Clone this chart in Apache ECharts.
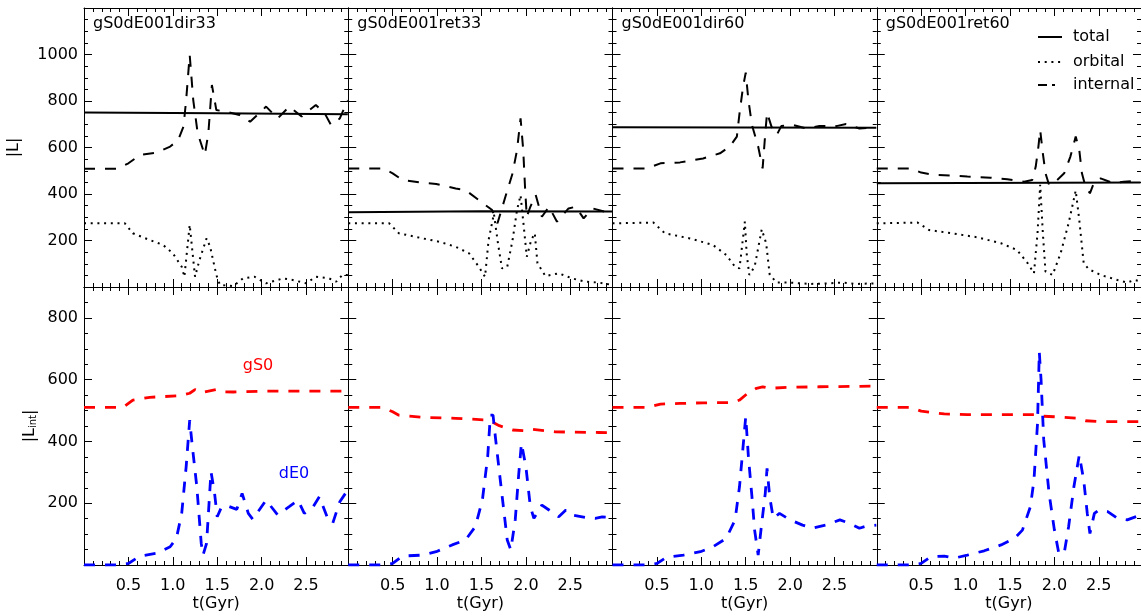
<!DOCTYPE html>
<html>
<head>
<meta charset="utf-8">
<script src="https://cdn.jsdelivr.net/npm/echarts@6/dist/echarts.min.js"></script>
<style>
html, body { margin: 0; padding: 0; background: #fff; }
#chart { width: 1141px; height: 616px; }
</style>
</head>
<body>
<div id="chart"></div>
<script>
const runs = ["gS0dE001dir33", "gS0dE001ret33", "gS0dE001dir60", "gS0dE001ret60"];
const legendNames = ["total", "orbital", "internal"];

// top row: |L| (total, orbital, internal), [t (Gyr), value]
const dir33Total = [[0, 751], [1.5, 747], [2.97, 743]];
const dir33Orbital = [[0,274],[0.46,274],[0.55,231],[0.74,202],[0.89,181],[1.0,145],[1.10,87],[1.13,44],[1.19,267],[1.25,44],[1.30,116],[1.38,209],[1.42,173],[1.49,52],[1.53,9],[1.68,4],[1.79,37],[1.92,44],[2.05,16],[2.24,37],[2.35,30],[2.5,16],[2.61,44],[2.76,37],[2.84,23],[2.91,52],[2.97,52]];
const dir33Internal = [[0,509],[0.37,509],[0.5,532],[0.63,568],[0.82,578],[0.97,604],[1.06,632],[1.12,690],[1.15,804],[1.19,998],[1.23,804],[1.28,661],[1.36,568],[1.40,661],[1.44,869],[1.49,761],[1.60,754],[1.75,740],[1.87,711],[2.01,761],[2.05,776],[2.18,725],[2.31,776],[2.45,733],[2.61,783],[2.71,747],[2.78,697],[2.88,725],[2.97,804]];

const ret33Total = [[0, 322], [1.5, 326], [2.97, 325]];
const ret33Orbital = [[0,274],[0.46,274],[0.57,231],[0.84,209],[1.02,195],[1.21,173],[1.36,145],[1.47,87],[1.54,44],[1.58,202],[1.64,315],[1.68,202],[1.73,80],[1.79,87],[1.85,202],[1.90,331],[1.94,395],[1.98,245],[2.01,130],[2.06,202],[2.10,231],[2.13,102],[2.22,47],[2.37,59],[2.52,37],[2.67,23],[2.82,19],[2.97,9]];
const ret33Internal = [[0,510],[0.39,510],[0.50,489],[0.61,460],[0.82,449],[0.99,443],[1.21,424],[1.32,417],[1.47,374],[1.62,331],[1.68,274],[1.77,389],[1.85,489],[1.90,589],[1.94,725],[1.97,589],[1.99,431],[2.01,302],[2.05,345],[2.11,396],[2.18,302],[2.26,345],[2.35,281],[2.48,338],[2.56,345],[2.65,295],[2.75,338],[2.90,323],[2.97,320]];

const dir60Total = [[0, 687], [2.97, 685]];
const dir60Orbital = [[0,274],[0.46,277],[0.59,231],[0.87,209],[1.13,181],[1.28,138],[1.38,87],[1.43,80],[1.49,281],[1.51,145],[1.54,52],[1.60,87],[1.68,248],[1.73,188],[1.77,52],[1.85,19],[2.0,19],[2.22,13],[2.45,16],[2.60,19],[2.75,13],[2.97,16]];
const dir60Internal = [[0,510],[0.39,510],[0.54,532],[0.76,536],[1.02,553],[1.21,575],[1.32,604],[1.40,647],[1.43,747],[1.47,862],[1.50,922],[1.53,804],[1.57,697],[1.64,604],[1.69,510],[1.72,661],[1.74,750],[1.79,690],[1.85,654],[1.90,692],[2.03,697],[2.18,682],[2.33,692],[2.52,692],[2.63,701],[2.78,682],[2.97,687]];

const ret60Total = [[0, 446], [2.97, 449]];
const ret60Orbital = [[0,274],[0.46,277],[0.59,245],[0.84,231],[1.13,214],[1.40,188],[1.58,159],[1.70,102],[1.77,59],[1.81,231],[1.84,440],[1.87,231],[1.90,66],[1.98,52],[2.07,145],[2.16,274],[2.24,415],[2.28,288],[2.33,102],[2.39,76],[2.52,52],[2.71,30],[2.82,19],[2.90,30],[2.97,25]];
const ret60Internal = [[0,510],[0.39,510],[0.5,492],[0.65,482],[0.84,479],[1.02,475],[1.28,470],[1.47,463],[1.66,453],[1.75,460],[1.79,518],[1.82,604],[1.84,675],[1.87,575],[1.90,489],[1.94,439],[2.03,460],[2.11,489],[2.18,561],[2.24,647],[2.28,589],[2.31,489],[2.35,432],[2.40,403],[2.45,453],[2.52,467],[2.67,446],[2.78,453],[2.90,456],[2.97,449]];

// bottom row: |L_int| of gS0 and dE0
const dir33GS0 = [[0,510],[0.44,510],[0.55,534],[0.74,543],[1.08,548],[1.19,556],[1.25,568],[1.32,558],[1.49,568],[1.57,561],[1.68,560],[2.05,563],[2.97,563]];
const dir33DE0 = [[0,0],[0.37,0],[0.5,5],[0.63,29],[0.82,38],[0.97,59],[1.04,86],[1.10,167],[1.15,318],[1.19,469],[1.22,383],[1.27,254],[1.32,70],[1.34,32],[1.38,70],[1.41,210],[1.43,302],[1.47,232],[1.50,156],[1.55,189],[1.62,191],[1.72,180],[1.78,232],[1.85,167],[1.90,148],[2.05,210],[2.18,162],[2.31,189],[2.41,210],[2.48,167],[2.58,189],[2.65,221],[2.75,146],[2.80,135],[2.88,205],[2.97,243]];

const ret33GS0 = [[0,510],[0.39,510],[0.50,496],[0.57,485],[0.84,478],[1.21,475],[1.58,469],[1.70,451],[1.85,437],[1.98,435],[2.05,440],[2.33,431],[2.82,429],[2.97,428]];
const ret33DE0 = [[0,0],[0.39,0],[0.5,5],[0.61,29],[0.84,32],[0.99,43],[1.17,65],[1.32,81],[1.43,124],[1.51,210],[1.57,351],[1.60,485],[1.63,485],[1.66,405],[1.72,254],[1.79,81],[1.83,49],[1.88,146],[1.92,297],[1.95,394],[2.00,318],[2.05,189],[2.09,151],[2.18,194],[2.26,178],[2.37,156],[2.45,178],[2.52,162],[2.67,154],[2.78,151],[2.86,156],[2.97,154]];

const dir60GS0 = [[0,510],[0.39,510],[0.54,521],[0.76,523],[1.02,525],[1.36,526],[1.43,534],[1.51,553],[1.62,572],[1.69,577],[1.77,572],[1.96,575],[2.33,577],[2.97,579]];
const dir60DE0 = [[0,0],[0.39,0],[0.5,5],[0.61,25],[0.80,32],[0.99,43],[1.13,59],[1.28,86],[1.38,146],[1.43,254],[1.47,383],[1.50,480],[1.53,351],[1.57,221],[1.60,113],[1.64,32],[1.68,135],[1.72,232],[1.74,313],[1.77,221],[1.81,151],[1.88,167],[2.0,146],[2.14,129],[2.25,119],[2.40,129],[2.56,146],[2.67,135],[2.78,119],[2.86,126],[2.97,129]];

const ret60GS0 = [[0,510],[0.39,510],[0.5,498],[0.76,489],[1.02,487],[1.40,487],[1.77,487],[1.85,482],[2.0,480],[2.26,475],[2.35,467],[2.52,464],[2.97,464]];
const ret60DE0 = [[0,0],[0.39,0],[0.5,5],[0.61,27],[0.76,29],[0.87,22],[1.02,32],[1.21,46],[1.40,65],[1.55,86],[1.64,113],[1.73,189],[1.77,275],[1.81,458],[1.83,690],[1.85,599],[1.88,405],[1.94,232],[2.0,113],[2.05,38],[2.11,38],[2.16,124],[2.22,254],[2.28,356],[2.33,275],[2.37,167],[2.40,102],[2.45,167],[2.50,178],[2.60,173],[2.71,151],[2.82,146],[2.97,162]];

const topData = [
  [dir33Total, dir33Orbital, dir33Internal],
  [ret33Total, ret33Orbital, ret33Internal],
  [dir60Total, dir60Orbital, dir60Internal],
  [ret60Total, ret60Orbital, ret60Internal]
];
const bottomData = [
  [dir33GS0, dir33DE0],
  [ret33GS0, ret33DE0],
  [dir60GS0, dir60DE0],
  [ret60GS0, ret60DE0]
];

const FONT = '"DejaVu Sans", sans-serif';
const DASH = [11, 10];
const DOT = [2, 4.7];
const red = "#ff0000", blue = "#0000ff";

const panelLeft = 84, panelW = 264.25;
const rows = [
  { top: 8, height: 279, max: 1200, minor: 50 },
  { top: 287, height: 278, max: 900, minor: 50 }
];
const tMax = 2.975;

let chart = echarts.init(document.getElementById("chart"), null, { renderer: "canvas" });

function buildChart() {
  const grids = [], xAxes = [], yAxes = [], series = [], titles = [];

  for (let g = 0; g < 8; g++) {
    const row = g < 4 ? 0 : 1, col = g % 4, r = rows[row];
    grids.push({
      left: panelLeft + col * panelW, top: r.top, width: panelW, height: r.height,
      show: false, containLabel: false, outerBoundsMode: "none"
    });

    ["bottom", "top"].forEach(pos => {
      ["major", "minor"].forEach(kind => {
        const major = kind === "major";
        const labels = major && pos === "bottom" && row === 1;
        xAxes.push({
          type: "value", gridIndex: g, position: pos, min: 0, max: tMax,
          interval: major ? 0.5 : 0.1,
          axisLine: { show: major, onZero: false, lineStyle: { color: "#000", width: 1 } },
          axisTick: { show: true, inside: true, length: major ? 8 : 4, lineStyle: { color: "#000", width: 1 } },
          splitLine: { show: false },
          axisLabel: {
            show: labels, margin: 13, color: "#000", fontSize: 16, fontFamily: FONT,
            formatter: v => (v > 0.25 && v < 2.75) ? v.toFixed(1) : ""
          },
          name: labels ? "t(Gyr)" : "", nameLocation: "middle", nameGap: 31,
          nameTextStyle: { color: "#000", fontSize: 16, fontFamily: FONT }
        });
      });
    });

    ["left", "right"].forEach(pos => {
      ["major", "minor"].forEach(kind => {
        const major = kind === "major";
        const labels = major && pos === "left" && col === 0;
        const ax = {
          type: "value", gridIndex: g, position: pos, min: 0, max: r.max,
          interval: major ? 200 : r.minor,
          axisLine: { show: major, onZero: false, lineStyle: { color: "#000", width: 1 } },
          axisTick: { show: true, inside: true, length: major ? 8 : 4, lineStyle: { color: "#000", width: 1 } },
          splitLine: { show: false },
          axisLabel: {
            show: labels, margin: 6, color: "#000", fontSize: 16, fontFamily: FONT,
            formatter: v => (v > 100 && v < r.max - 60) ? String(v) : ""
          }
        };
        if (labels && row === 0) {
          ax.name = "|L|";
          ax.nameLocation = "middle";
          ax.nameRotate = 90;
          ax.nameGap = 62;
          ax.nameTextStyle = { color: "#000", fontSize: 16, fontFamily: FONT, lineHeight: 16 };
        }
        if (labels && row === 1) {
          ax.name = "{a||L}{s|int}{a||}";
          ax.nameLocation = "middle";
          ax.nameRotate = 90;
          ax.nameGap = 46;
          ax.nameTextStyle = {
            color: "#000", fontSize: 16, fontFamily: FONT,
            rich: {
              a: { color: "#000", fontSize: 16, fontFamily: FONT, lineHeight: 16, verticalAlign: "top" },
              s: { color: "#000", fontSize: 10, fontFamily: FONT, lineHeight: 10, padding: [12, 0, 0, 0], verticalAlign: "bottom" }
            }
          };
        }
        yAxes.push(ax);
      });
    });

    if (row === 0) {
      const [tot, orb, int] = topData[col];
      const styles = [
        { color: "#000", width: 2, type: "solid" },
        { color: "#000", width: 2, type: DOT, cap: "butt" },
        { color: "#000", width: 2, type: DASH }
      ];
      [tot, orb, int].forEach((d, i) => {
        series.push({
          type: "line", name: legendNames[i], xAxisIndex: g * 4, yAxisIndex: g * 4,
          data: d, showSymbol: false, symbol: "none", silent: true,
          lineStyle: styles[i]
        });
      });
      titles.push({
        text: runs[col], left: panelLeft + col * panelW + 9, top: 16, padding: 0,
        textStyle: { color: "#000", fontSize: 16, fontWeight: "normal", fontFamily: FONT }
      });
    } else {
      const [gs, de] = bottomData[col];
      series.push({
        type: "line", name: "gS0", xAxisIndex: g * 4, yAxisIndex: g * 4,
        data: gs, showSymbol: false, symbol: "none", silent: true,
        lineStyle: { color: red, width: 2.8, type: DASH }
      });
      series.push({
        type: "line", name: "dE0", xAxisIndex: g * 4, yAxisIndex: g * 4,
        data: de, showSymbol: false, symbol: "none", silent: true,
        lineStyle: { color: blue, width: 2.8, type: DASH }
      });
    }
  }

  // legend box in the last top panel, and the gS0 / dE0 tags of the first bottom panel
  const legY = [37, 62, 85];
  const legDash = [null, DOT, [9, 5, 3, 40]];
  const graphic = [];
  legendNames.forEach((n, i) => {
    graphic.push({
      type: "line", silent: true,
      shape: { x1: 1038, y1: legY[i], x2: 1062, y2: legY[i] },
      style: { stroke: "#000", lineWidth: 2, lineDash: legDash[i] || null }
    });
    graphic.push({
      type: "text", silent: true, x: 1073, y: legY[i],
      style: { text: n, fill: "#000", font: "16px " + FONT, verticalAlign: "middle", align: "left" }
    });
  });
  graphic.push({
    type: "text", silent: true, x: 258, y: 366,
    style: { text: "gS0", fill: red, font: "16px " + FONT, verticalAlign: "middle", align: "center" }
  });
  graphic.push({
    type: "text", silent: true, x: 294, y: 474,
    style: { text: "dE0", fill: blue, font: "16px " + FONT, verticalAlign: "middle", align: "center" }
  });

  return {
    animation: false,
    backgroundColor: "#fff",
    textStyle: { fontFamily: FONT },
    title: titles,
    grid: grids,
    xAxis: xAxes,
    yAxis: yAxes,
    series: series,
    graphic: graphic
  };
}

chart.setOption(buildChart());
window.addEventListener("resize", () => chart.resize());
</script>
</body>
</html>
